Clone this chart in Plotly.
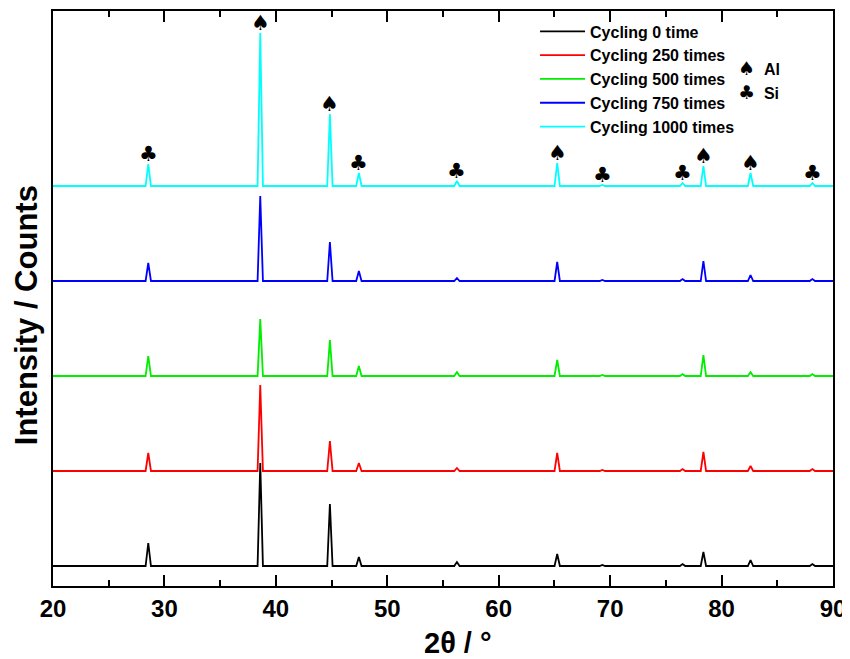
import plotly.graph_objects as go

peak_pos = [28.55, 38.6, 44.85, 47.45, 56.25, 65.25, 69.3, 76.5, 78.37, 82.6, 88.15]
peak_phase = ["Si", "Al", "Al", "Si", "Si", "Al", "Si", "Si", "Al", "Al", "Si"]

series_names = ["Cycling 0 time", "Cycling 250 times", "Cycling 500 times",
                "Cycling 750 times", "Cycling 1000 times"]
series_colors = ["#000000", "#ff0000", "#00ee00", "#0000ff", "#00ffff"]
baseline = [20, 115, 210, 305, 400]

# Peak intensities (arbitrary counts)
h_0 = [23, 103, 62, 9, 4, 12, 1, 2, 14, 6, 2]
h_250 = [18, 86, 30, 8, 3, 18, 1, 2, 19, 5, 2]
h_500 = [20, 57, 36, 10, 4, 16, 1, 2, 21, 4, 2]
h_750 = [18, 85, 39, 10, 3, 19, 1, 2, 20, 6, 2]
h_1000 = [22, 153, 72, 13, 5, 23, 1, 3, 20, 13, 3]
heights = [h_0, h_250, h_500, h_750, h_1000]

x_ticks = [20, 30, 40, 50, 60, 70, 80, 90]

fig = go.Figure()
half = 0.24
for name, col, base, hs in zip(series_names, series_colors, baseline, heights):
    xs, ys = [20], [base]
    for p, h in zip(peak_pos, hs):
        xs += [p - half, p, p + half]
        ys += [base, base + h, base]
    xs.append(90)
    ys.append(base)
    fig.add_trace(go.Scatter(x=xs, y=ys, mode="lines", name=name,
                             legendgroup=name,
                             line=dict(color=col, width=1.8)))

# phase markers above the top pattern
sym = {"Al": "♠", "Si": "♣"}
top_h = heights[-1]
for p, ph, h in zip(peak_pos, peak_phase, top_h):
    fig.add_annotation(x=p, y=baseline[-1] + h, text=sym[ph], showarrow=False,
                       yanchor="bottom", yshift=-4,
                       font=dict(size=21, color="black", family="DejaVu Sans"))

# phase key
key_y = [0.901, 0.859]
for (ph, yk) in zip(["Al", "Si"], key_y):
    fig.add_annotation(xref="paper", yref="paper", x=0.876, y=yk, xanchor="left",
                       yanchor="middle", showarrow=False,
                       text=f"<span style='font-family:DejaVu Sans;font-size:19px'>{sym[ph]}</span>  <b>{ph}</b>",
                       font=dict(size=16, color="black", family="Liberation Sans, Arial"))

# axis titles (placed as in the reference, slightly off-centre)
fig.add_annotation(xref="paper", yref="paper", x=0.519, y=-0.099,
                   xanchor="center", yanchor="middle", showarrow=False,
                   text="<b>2θ / °</b>",
                   font=dict(size=29, color="black", family="Liberation Sans, Arial"))
fig.add_annotation(xref="paper", yref="paper", x=-0.0346, y=0.471,
                   xanchor="center", yanchor="middle", showarrow=False,
                   textangle=-90, text="<b>Intensity / Counts</b>",
                   font=dict(size=31, color="black", family="Liberation Sans, Arial"))

# page body adds an 8px offset; the figure is sized to fill the rest
fig.update_layout(
    width=842, height=651,
    margin=dict(l=45, r=17, t=3, b=73, autoexpand=False),
    plot_bgcolor="white", paper_bgcolor="white",
    font=dict(family="Liberation Sans, Arial", color="black"),
    showlegend=True,
    legend=dict(x=0.618, y=0.994, xanchor="left", yanchor="top",
                bgcolor="rgba(0,0,0,0)", tracegroupgap=0, itemwidth=45,
                font=dict(size=16, family="Liberation Sans, Arial", weight="bold")),
    xaxis=dict(range=[20, 90], tickvals=x_ticks,
               ticktext=[f"<b>{t}</b>" for t in x_ticks],
               ticks="inside", ticklen=11, tickwidth=1.5, tickcolor="black",
               minor=dict(dtick=5, tick0=20, ticks="inside", ticklen=6,
                          tickwidth=1.5, tickcolor="black"),
               showline=True, linecolor="black", linewidth=2, mirror="allticks",
               showgrid=False, zeroline=False, automargin=False,
               tickfont=dict(size=24, family="Liberation Sans Narrow, Liberation Sans, Arial")),
    yaxis=dict(range=[0, 575], showticklabels=False, ticks="",
               showline=True, linecolor="black", linewidth=2, mirror=True,
               showgrid=False, zeroline=False, automargin=False),
)

fig.write_html("out.html")
